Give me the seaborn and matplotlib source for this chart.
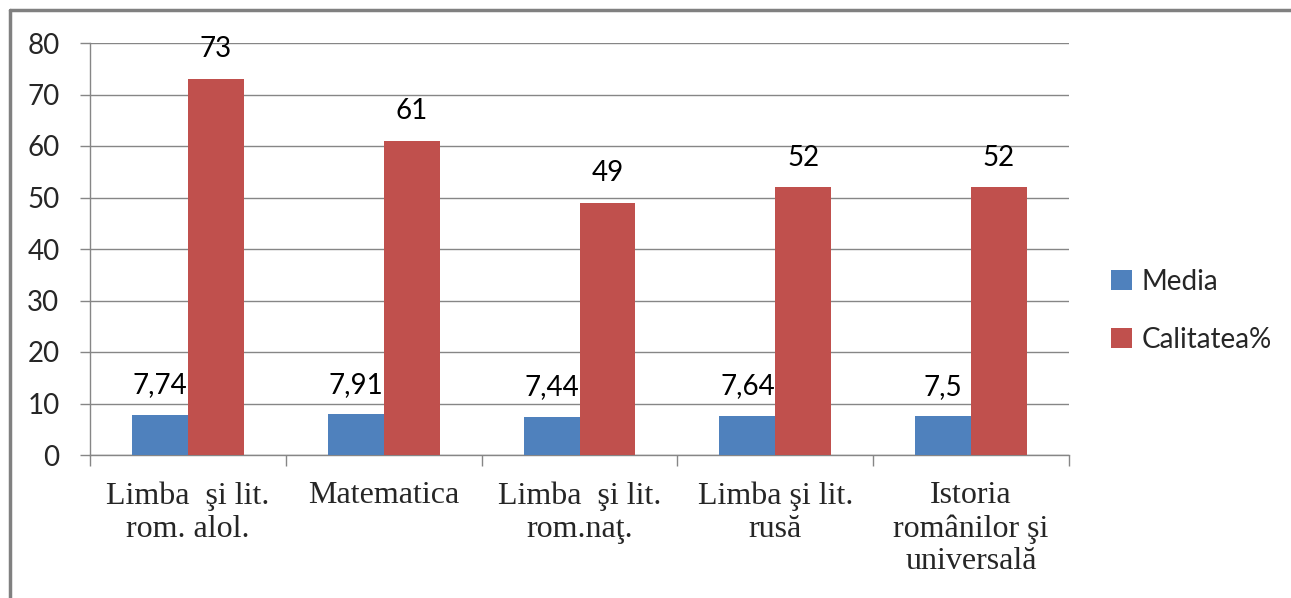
import numpy as np
import pandas as pd
import seaborn as sns
import matplotlib.pyplot as plt
from matplotlib.lines import Line2D

# data
subjects = ['Limba  şi lit.\nrom. alol.', 'Matematica', 'Limba  şi lit.\nrom.naţ.',
            'Limba şi lit.\nrusă', 'Istoria\nromânilor şi\nuniversală']
media = [7.74, 7.91, 7.44, 7.64, 7.5]
calitatea = [73, 61, 49, 52, 52]
series_names = ['Media', 'Calitatea%']
colors = ['#4F81BD', '#C0504D']

df = pd.DataFrame({
    'subject': subjects * 2,
    'value': media + calitatea,
    'series': [series_names[0]] * len(subjects) + [series_names[1]] * len(subjects),
})

sns.set_style('white')
plt.rcParams['font.family'] = ['Lato', 'DejaVu Sans']

fig = plt.figure(figsize=(12.91, 5.98), dpi=100)
ax = fig.add_axes([90 / 1291, 1 - 455 / 598, (1069 - 90) / 1291, (455 - 43) / 598])

sns.barplot(data=df, x='subject', y='value', hue='series', palette=colors,
            width=0.57, saturation=1, linewidth=0, ax=ax, zorder=3)

# value labels
for cont, vals in zip(ax.containers, [media, calitatea]):
    labs = [('%g' % v).replace('.', ',') for v in vals]
    ax.bar_label(cont, labels=labs, padding=12, fontsize=20, color='#000000')

ax.set_ylim(0, 80)
ax.set_xlim(-0.5, len(subjects) - 0.5)
ax.set_yticks(np.arange(0, 81, 10))
ax.yaxis.grid(True, color='#868686', lw=1, zorder=0)
ax.set_axisbelow(True)
ax.tick_params(axis='y', labelsize=20, length=7, color='#868686', width=1, pad=15, left=True)

ax.set_xticks(range(len(subjects)))
ax.set_xticklabels(subjects, fontfamily='Liberation Serif', fontsize=23, linespacing=1.17)
ax.set_xticks(np.arange(-0.5, len(subjects)), minor=True)
ax.tick_params(axis='x', which='major', length=0, pad=19)
ax.tick_params(axis='x', which='minor', length=8, color='#868686', width=1, bottom=True)
ax.set_xlabel('')
ax.set_ylabel('')

for s in ['top', 'right']:
    ax.spines[s].set_visible(False)
for s in ['left', 'bottom']:
    ax.spines[s].set_color('#868686')
    ax.spines[s].set_linewidth(1)

ax.legend(loc='center left', bbox_to_anchor=(1.043, 0.35), frameon=False, fontsize=20,
          handlelength=0.75, handleheight=0.75, handletextpad=0.35, labelspacing=1.15,
          borderaxespad=0, borderpad=0)

# outer frame (top and left visible)
fig.add_artist(Line2D([10 / 1291, 1], [1 - 10 / 598, 1 - 10 / 598], color='#808080', lw=2.5))
fig.add_artist(Line2D([10 / 1291, 10 / 1291], [0, 1 - 10 / 598], color='#808080', lw=2.5))

fig.savefig('out.png', dpi=100)
